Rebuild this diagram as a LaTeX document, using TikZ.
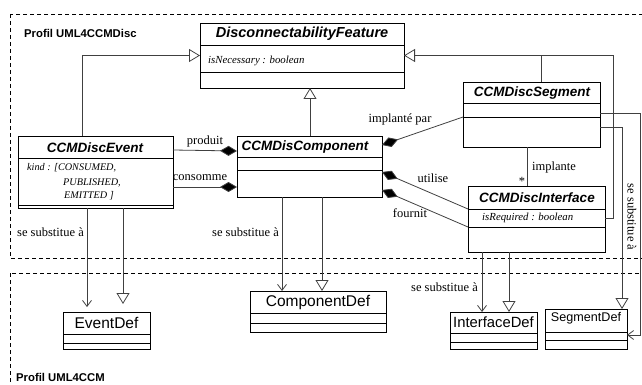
\documentclass[tikz,border=0pt]{standalone}
\usepackage{fontspec}
\setmainfont{Liberation Serif}
\setsansfont{Liberation Sans}
\usetikzlibrary{arrows.meta}
\definecolor{linec}{gray}{0.25}

% class box: name, x1, y1, x2, y2, first and second compartment lines
\newcommand\umlclass[7]{%
  \node[classbox, minimum width={#4-#2}, minimum height={#5-#3}] (#1) at ({(#2+#4)/2},{(#3+#5)/2}) {};
  \draw[line width=0.8pt] (#2,#6) -- (#4,#6) (#2,#7) -- (#4,#7);}

\begin{document}
\begin{tikzpicture}[x=1pt,y=-1pt,
  classbox/.style={draw, line width=0.8pt, inner sep=0pt, outer sep=0pt},
  ctitle/.style={font=\sffamily\bfseries\itshape\fontsize{13.5}{15}\selectfont, inner sep=0pt},
  deftitle/.style={font=\sffamily\fontsize{15.5}{17}\selectfont, inner sep=0pt},
  attr/.style={font=\itshape\fontsize{10.8}{12}\selectfont, inner sep=0pt, anchor=west},
  lbl/.style={font=\fontsize{12.5}{14}\selectfont, inner sep=0pt},
  profil/.style={font=\sffamily\bfseries\fontsize{11.3}{13}\selectfont, inner sep=0pt, anchor=west},
  frame/.style={draw, line width=0.6pt, dash pattern=on 4pt off 3pt},
  conn/.style={draw=linec, line width=0.8pt},
  gen/.style={conn, -{Triangle[open, length=11pt, width=13pt, fill=white]}},
  dep/.style={conn, -{Straight Barb[length=6pt, width=9pt]}},
  compo/.style={conn, {Diamond[length=17pt, width=10pt, fill=black]}-},
]
\useasboundingbox (0,0) rectangle (642,385);

% profile frames
\draw[frame] (10,14) rectangle (660,258);
\draw[frame] (10,273) rectangle (660,410);
\node[profil] (p1) at (24,33) {Profil UML4CCMDisc};
\node[profil] (p2) at (16,377) {Profil UML4CCM};

% stereotype classes
\umlclass{df}{200}{23}{404}{88}{45}{72}
\node[ctitle, font=\sffamily\bfseries\itshape\fontsize{14.5}{16}\selectfont] (dft) at (302,34) {DisconnectabilityFeature};
\node[attr] (dfa) at (208,61) {isNecessary : boolean};

\umlclass{evt}{18}{136}{173}{208}{158}{205}
\node[ctitle] (evtt) at (95,148) {CCMDiscEvent};
\node[attr, font=\itshape\fontsize{10.2}{12}\selectfont] (evta1) at (27,168) {kind : [CONSUMED,};
\node[attr, font=\itshape\fontsize{10.2}{12}\selectfont] (evta2) at (63,183) {PUBLISHED,};
\node[attr, font=\itshape\fontsize{10.2}{12}\selectfont] (evta3) at (64,196) {EMITTED ]};

\umlclass{comp}{237}{136}{382}{197}{157}{170}
\node[ctitle] (compt) at (305,147) {CCMDisComponent};

\umlclass{seg}{463}{82}{600}{147}{103}{117}
\node[ctitle] (segt) at (532,93) {CCMDiscSegment};

\umlclass{intf}{468}{186}{605}{252}{209}{227}
\node[ctitle] (intft) at (537,198) {CCMDiscInterface};
\node[attr] (intfa) at (482,218) {isRequired : boolean};

% metaclasses
\umlclass{evd}{63}{312}{150}{349}{334}{343}
\node[deftitle] (evdt) at (106.5,323) {EventDef};
\umlclass{cpd}{250}{291}{386}{332}{313}{323}
\node[deftitle] (cpdt) at (318,302) {ComponentDef};
\umlclass{ifd}{450}{312}{537}{349}{333}{342}
\node[deftitle, font=\sffamily\fontsize{14.8}{16}\selectfont] (ifdt) at (493.5,322.5) {InterfaceDef};
\umlclass{sgd}{545}{309}{627}{349}{332}{340}
\node[deftitle, font=\sffamily\fontsize{12.6}{14}\selectfont] (sgdt) at (586,318) {SegmentDef};

% generalizations towards DisconnectabilityFeature
\coordinate (jr) at (613,55.5);
\draw[gen] (evt.north -| 82,0) |- (df.west);
\draw[gen] (comp.north -| 310,0) -- (df.south -| 310,0);
\draw[gen] (intf.east |- 0,218) -| (jr) -- (df.east);
\draw[conn] (seg.north -| 541,0) -- (jr -| 541,0);

% compositions
\draw[compo] (comp.west |- 0,151) -- (evt.east |- 0,150);
\node[lbl] (lp) at (205,141) {produit};
\draw[compo] (comp.west |- 0,187) -- (evt.east |- 0,187);
\node[lbl] (lc) at (200,178) {consomme};
\draw[compo] (comp.east |- 0,145) -- (seg.west |- 0,117);
\node[lbl] (li) at (400,119) {implanté par};
\draw[compo] (comp.east |- 0,172) -- (intf.west |- 0,209);
\node[lbl] (lu) at (433,178) {utilise};
\draw[compo] (comp.east |- 0,190) -- (intf.west |- 0,227);
\node[lbl] (lf) at (410,213) {fournit};

% implante
\draw[conn] (seg.south -| 527,0) -- (intf.north -| 527,0);
\node[lbl, anchor=west] (lim) at (532,167) {implante};
\node[lbl] (lst) at (522,181) {*};

% substitutions and extensions towards the metaclasses
\draw[dep, shorten >=5pt] (evt.south -| 87,0) -- (evd.north -| 87,0);
\draw[gen, shorten >=8pt] (evt.south -| 123,0) -- (evd.north -| 123,0);
\node[lbl, anchor=east] (ls1) at (84,232) {se substitue à};

\draw[dep] (comp.south -| 282,0) -- (cpd.north -| 282,0);
\draw[gen] (comp.south -| 322,0) -- (cpd.north -| 322,0);
\node[lbl, anchor=east] (ls2) at (279,232) {se substitue à};

\draw[dep] (intf.south -| 482,0) -- (ifd.north -| 482,0);
\draw[gen] (intf.south -| 509,0) -- (ifd.north -| 509,0);
\node[lbl, anchor=east] (ls3) at (478,287) {se substitue à};

\draw[gen] (seg.east |- 0,127) -| (sgd.north -| 622,0);
\coordinate (jd) at (640,335);
\draw[dep] (seg.east |- 0,113) -| (jd) -- (sgd.east |- jd);
\node[lbl, rotate=-90] (ls4) at (632,217) {se substitue à};
\end{tikzpicture}
\end{document}
